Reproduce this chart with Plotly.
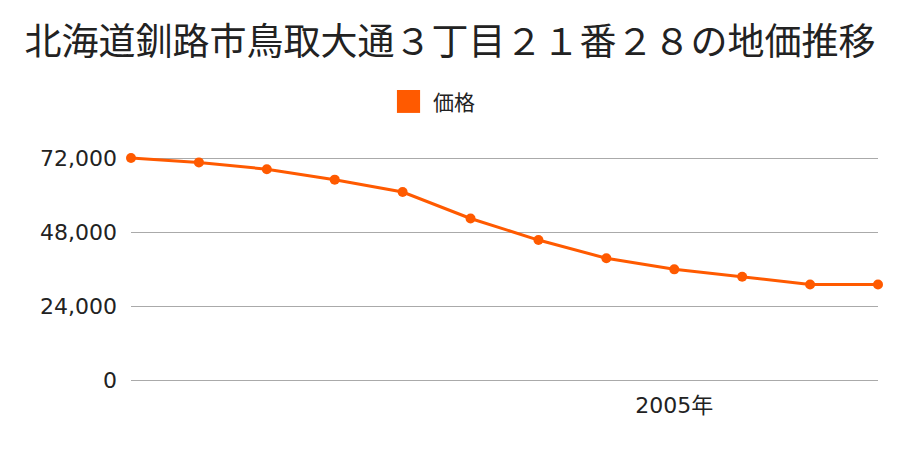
import plotly.graph_objects as go

# land price per year
years = [1997, 1998, 1999, 2000, 2001, 2002, 2003, 2004, 2005, 2006, 2007, 2008]
prices = [72000, 70600, 68400, 65000, 61000, 52400, 45400, 39500, 35900, 33500, 31000, 31000]

y_ticks = [0, 24000, 48000, 72000]
x_ticks = [2005]
x_tick_labels = ["2005年"]

title_text = "北海道釧路市鳥取大通３丁目２１番２８の地価推移"
legend_text = "価格"
orange = "#ff5a00"
font_family = "Noto Sans CJK JP"
num_font = "DejaVu Sans, Noto Sans CJK JP"

fig = go.Figure()
fig.add_trace(go.Scatter(x=years, y=prices, mode="lines+markers",
                         line=dict(color=orange, width=3),
                         marker=dict(color=orange, size=10),
                         cliponaxis=False, showlegend=False))

# legend drawn by hand: square + label (placed above the plot)
fig.add_shape(type="rect", xref="paper", yref="paper",
              x0=0.356, x1=0.387, y0=1.187, y1=1.289,
              fillcolor=orange, line=dict(width=0))
fig.add_annotation(text=legend_text, xref="paper", yref="paper",
                   x=0.402, y=1.238, xanchor="left", yanchor="middle",
                   showarrow=False, font=dict(size=21, color="#222"))

fig.update_layout(
    width=900, height=450,
    margin=dict(l=123, r=30, t=147, b=78),
    plot_bgcolor="white", paper_bgcolor="white",
    font=dict(family=font_family, color="#222"),
    title=dict(text=title_text, x=0.491, xanchor="center", y=0.924, yanchor="middle",
               font=dict(size=37, color="#222")),
    xaxis=dict(range=[1997, 2008], tickvals=x_ticks, ticktext=x_tick_labels,
               showgrid=False, zeroline=False, showline=False,
               tickfont=dict(size=22, family=num_font), ticklabelstandoff=10),
    yaxis=dict(range=[0, 73000], tickvals=y_ticks, tickformat=",",
               gridcolor="#aaaaaa", gridwidth=1, zeroline=True, zerolinecolor="#aaaaaa",
               zerolinewidth=1, showline=False,
               tickfont=dict(size=22, family=num_font), ticklabelstandoff=13),
)

fig.write_html("out.html")
